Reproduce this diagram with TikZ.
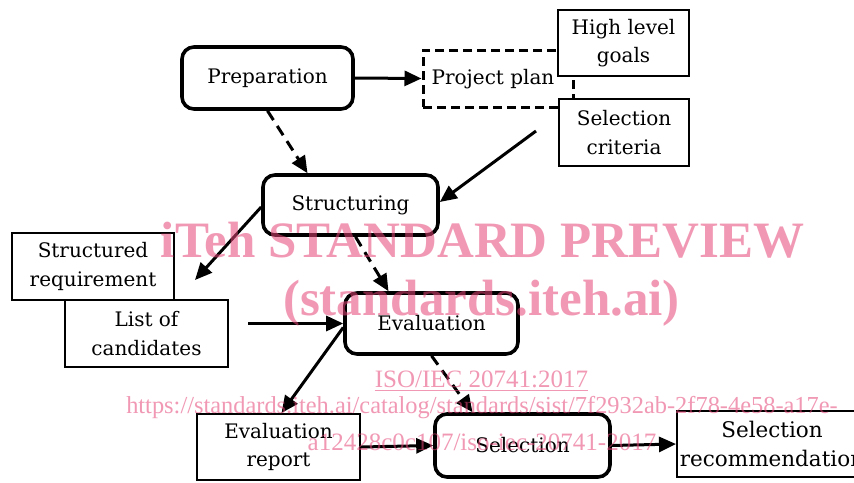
\documentclass[tikz,border=0pt]{standalone}
\usepackage{fontspec}
\setmainfont{DejaVu Serif}
\newfontfamily\wmfont{Liberation Serif}
\usetikzlibrary{arrows.meta}
\definecolor{wmpink}{RGB}{230,70,120}
\begin{document}
\begin{tikzpicture}[x=1pt,y=-1pt,
  txt/.style={font=\fontsize{20}{28.5}\selectfont, align=center, inner sep=0pt},
  phase/.style={txt, draw, line width=3.6pt, rounded corners=12pt, fill=white},
  docbox/.style={txt, draw, line width=2pt, fill=white},
  arr/.style={line width=3pt, -{Triangle[length=17pt,width=15pt]}},
  darr/.style={arr, dash pattern=on 11pt off 7pt},
  wm/.style={text=wmpink, opacity=0.55, inner sep=0pt, anchor=base},
  wmline/.style={draw=wmpink, opacity=0.55, line width=1.3pt}
]
\useasboundingbox (0,0) rectangle (854,482);
\fill[white] (0,0) rectangle (854,482);

% dashed project plan box
\node[draw, line width=3pt, dash pattern=on 9pt off 5pt, minimum width=150pt, minimum height=57pt, inner sep=0pt] (plan) at (498,78.5) {};
\node[txt] (plantxt) at (493,79) {Project plan};

% phase boxes
\node[phase, minimum width=171pt, minimum height=62pt] (prep) at (267.5,78) {Preparation};
\node[phase, minimum width=175pt, minimum height=60pt] (struct) at (350.5,205) {Structuring};
\node[phase, minimum width=173pt, minimum height=61pt] (eval) at (431.5,323.5) {Evaluation};
\node[phase, minimum width=175pt, minimum height=63pt] (sel) at (522.5,445.5) {Selection};

% document boxes
\node[docbox, minimum width=131pt, minimum height=66pt] (goals) at (623.5,43) {High level\\goals};
\node[docbox, minimum width=130pt, minimum height=67pt] (crit) at (624,132.5) {Selection\\criteria};
\node[docbox, minimum width=162pt, minimum height=67pt] (sreq) at (93,266.5) {Structured\\requirement};
\node[docbox, minimum width=163pt, minimum height=67pt] (cand) at (146.5,333.5) {List of\\candidates};
\node[docbox, minimum width=163pt, minimum height=66pt] (evrep) at (278.5,447) {Evaluation\\report};
\node[docbox, minimum width=190pt, minimum height=66pt, font=\fontsize{21.5}{28.5}\selectfont] (selrec) at (772,444) {Selection\\recommendation};

% free ends
\coordinate (c1) at (536,131);
\coordinate (c2) at (195,280);
\coordinate (c3) at (248,323.5);

% connectors
\draw[arr] (prep.east) -- (plan.west);
\draw[darr] (prep.south) -- ([xshift=-43pt]struct.north);
\draw[arr] (c1) -- ([yshift=3pt]struct.east);
\draw[arr] ([yshift=-2pt]struct.west) -- (c2);
\draw[darr] ([xshift=5pt]struct.south) -- ([xshift=-43pt]eval.north);
\draw[arr] (c3) -- (eval.west);
\draw[arr] ([yshift=-4pt]eval.west) -- ([xshift=3pt]evrep.north);
\draw[darr] (eval.south) -- ([xshift=-50pt]sel.north);
\draw[arr] (evrep.east) -- (sel.west);
\draw[arr] (sel.east) -- (selrec.west);

% watermark
\node[wm, font=\wmfont\bfseries\fontsize{51}{51}\selectfont] (wm1) at (482.5,257) {iTeh STANDARD PREVIEW};
\node[wm, font=\wmfont\bfseries\fontsize{51}{51}\selectfont] (wm2) at (481.5,315) {(standards.iteh.ai)};
\node[wm, font=\wmfont\fontsize{25}{25}\selectfont] (wm3) at (481.5,387) {ISO/IEC 20741:2017};
\draw[wmline] ([yshift=-3.5pt]wm3.base west) -- ([yshift=-3.5pt]wm3.base east);
\node[wm, font=\wmfont\fontsize{24.4}{25}\selectfont] (wm4) at (482,413) {https://standards.iteh.ai/catalog/standards/sist/7f2932ab-2f78-4e58-a17e-};
\node[wm, font=\wmfont\fontsize{25}{25}\selectfont] (wm5) at (482,450) {a12428c0c107/iso-iec-20741-2017};
\end{tikzpicture}
\end{document}
